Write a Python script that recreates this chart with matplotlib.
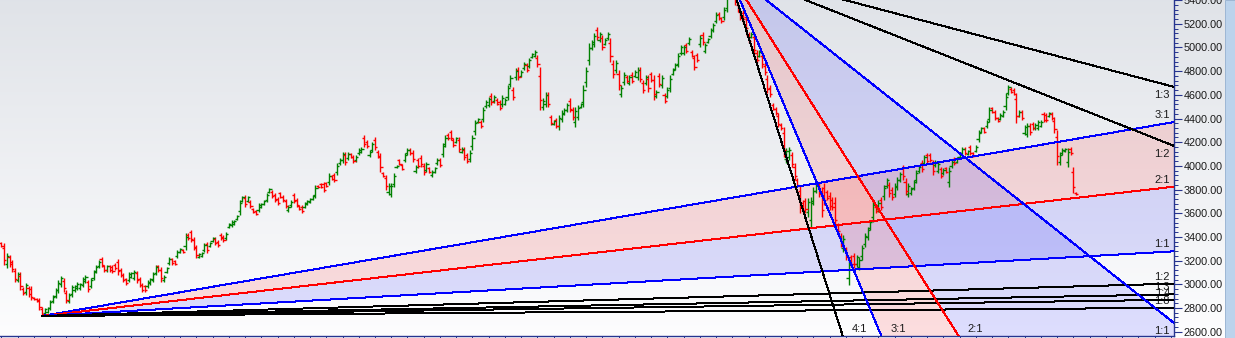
import numpy as np
import matplotlib
matplotlib.use("Agg")
import matplotlib.pyplot as plt
from matplotlib.ticker import MultipleLocator, FuncFormatter
from matplotlib.patches import Rectangle

plt.rcParams["font.family"] = ["Liberation Sans", "DejaVu Sans"]

# palette
UP = "#008000"
DOWN = "#ff0000"
BLUE = "#0000ff"
RED = "#ff0000"
BLACK = "#000000"
AXIS = "#26348f"
TXT = "#1a1a1a"

# ---- daily OHLC bars (oldest first) ----
opens = [
    3348, 3311, 3169, 3227, 3185, 3113, 3040, 3073, 2964, 2935, 2967, 2961, 2888, 2877, 2864, 2793, 2756, 2770,
    2804, 2859, 2905, 2954, 3000, 3029, 2930, 2863, 2918, 2950, 2969, 2967, 2998, 3028, 3016, 2990, 3057, 3112,
    3154, 3213, 3151, 3118, 3151, 3149, 3167, 3186, 3122, 3080, 3041, 3040, 3066, 3057, 3092, 3044, 2996, 2982,
    2986, 3009, 3040, 3099, 3151, 3121, 3034, 3108, 3180, 3210, 3197, 3239, 3275, 3290, 3325, 3420, 3438,
    3377, 3309, 3232, 3241, 3291, 3338, 3325, 3367, 3385, 3361, 3420, 3403, 3390, 3486, 3498, 3511, 3553, 3616,
    3707, 3733, 3707, 3697, 3635, 3618, 3628, 3654, 3679, 3713, 3781, 3781, 3755, 3722, 3768, 3741, 3704, 3624,
    3667, 3753, 3712, 3660, 3655, 3656, 3679, 3696, 3722, 3755, 3832, 3846, 3845, 3854, 3862, 3913, 3923, 3947,
    4021, 4046, 4093, 4065, 4099, 4077, 4046, 4105, 4120, 4239, 4203, 4088, 4136,
    4220, 4119, 4075, 3939, 3896, 3778, 3766, 3850, 3987, 4046, 4004, 4050, 4105, 4137, 4112, 3955, 4048, 4070,
    4003, 3968, 3979, 3920, 3951, 4021, 4050, 4103, 4183, 4264, 4284, 4218, 4204, 4217, 4120, 4135, 4090, 4056,
    4164, 4291, 4371, 4372, 4400, 4503, 4516, 4593, 4546, 4559, 4537, 4520, 4527, 4586, 4689, 4641, 4748, 4810,
    4763, 4824, 4851, 4845, 4919, 4931, 4913, 4759, 4495, 4527, 4596, 4410, 4354,
    4385, 4333, 4393, 4442, 4472, 4547, 4473, 4368, 4417, 4497, 4541, 4705, 4895, 4996, 5030, 5147, 5064, 5077,
    5033, 5077, 5036, 4861, 4809, 4773, 4604, 4708, 4751, 4701, 4771, 4763, 4750, 4807, 4700, 4701, 4736, 4773,
    4723, 4588, 4757, 4683, 4596, 4594, 4657, 4780, 4822, 4862, 4954, 4954, 5017, 5035, 4963, 4908, 4935, 5026,
    5105, 4971, 5045, 5098, 5146, 5226, 5282, 5245, 5255,
    5330, 5610, 5540, 5450,
    5363, 5296, 5293, 5255, 5108, 5090, 5088, 4953, 4931, 4932, 4846, 4735, 4660, 4517, 4481, 4420, 4348, 4275,
    4055, 4075, 4090, 3994, 3881, 3790, 3689, 3702, 3607, 3546, 3706, 3791, 3830, 3769, 3817, 3778, 3748, 3714,
    3685, 3500, 3408, 3308, 3292, 3053, 3227, 3239, 3171, 3148, 3237, 3344, 3401, 3479, 3572, 3655, 3635, 3714,
    3743, 3833, 3837,
    3798, 3766, 3822, 3883, 3981, 3867, 3766, 3770, 3816, 3881, 3955, 4028, 4027, 4090, 4092, 4023, 4004, 3961,
    3970, 3936, 3979, 3862, 3997, 4060, 4036, 4078, 4107, 4144, 4101, 4157, 4107, 4130, 4225, 4289, 4316, 4335,
    4400, 4485, 4452, 4402, 4400, 4425, 4505, 4617, 4653, 4643, 4562, 4425, 4452, 4280, 4272, 4340, 4355, 4316,
    4322, 4341, 4436, 4429, 4421, 4439, 4383, 4242, 4033, 4105, 4124, 4029, 4144, 3945, 3773,
]
highs = [
    3356, 3348, 3264, 3247, 3205, 3137, 3103, 3103, 2977, 3011, 2985, 2985, 2893, 2884, 2884, 2808, 2800, 2808,
    2867, 2910, 2969, 3036, 3070, 3053, 2952, 2926, 2994, 2994, 3019, 3011, 3061, 3078, 3036, 3053, 3120, 3163,
    3205, 3230, 3163, 3163, 3163, 3163, 3179, 3213, 3137, 3095, 3053, 3103, 3103, 3120, 3112, 3061, 3011, 2994,
    3036, 3053, 3103, 3163, 3163, 3146, 3078, 3146, 3230, 3222, 3205, 3289, 3306, 3297, 3432, 3432, 3458,
    3399, 3331, 3264, 3272, 3348, 3356, 3356, 3399, 3399, 3373, 3432, 3415, 3441, 3517, 3542, 3542, 3584, 3711,
    3744, 3753, 3744, 3711, 3643, 3626, 3685, 3685, 3711, 3770, 3812, 3795, 3770, 3736, 3778, 3753, 3719, 3668,
    3711, 3770, 3727, 3668, 3668, 3694, 3711, 3727, 3753, 3837, 3837, 3854, 3862, 3862, 3938, 3921, 3938, 4023,
    4065, 4115, 4115, 4115, 4107, 4090, 4090, 4149, 4157, 4259, 4217, 4132, 4200,
    4242, 4132, 4107, 3947, 3921, 3854, 3854, 3938, 4006, 4056, 4014, 4107, 4149, 4149, 4132, 4006, 4065, 4090,
    4023, 4031, 3989, 3964, 3989, 4065, 4065, 4191, 4259, 4276, 4301, 4233, 4242, 4242, 4157, 4157, 4107, 4132,
    4259, 4385, 4402, 4385, 4495, 4554, 4579, 4613, 4596, 4571, 4554, 4596, 4571, 4680, 4765, 4663, 4824, 4832,
    4807, 4874, 4866, 4908, 4950, 4975, 4933, 4832, 4571, 4621, 4621, 4427, 4385,
    4402, 4427, 4469, 4486, 4529, 4571, 4495, 4495, 4512, 4529, 4680, 4832, 5034, 5060, 5119, 5169, 5127, 5102,
    5077, 5127, 5077, 4891, 4891, 4807, 4680, 4790, 4765, 4765, 4790, 4807, 4832, 4832, 4722, 4765, 4765, 4790,
    4765, 4638, 4781, 4765, 4613, 4663, 4765, 4824, 4866, 4950, 5018, 5018, 5034, 5085, 4975, 4933, 4950, 5102,
    5127, 5034, 5077, 5161, 5203, 5296, 5296, 5254, 5338,
    5664, 5640, 5560, 5470,
    5380, 5313, 5313, 5287, 5127, 5127, 5127, 4975, 4975, 4959, 4866, 4765, 4680, 4529, 4495, 4444, 4360, 4326,
    4149, 4157, 4115, 4023, 3896, 3837, 3711, 3727, 3727, 3736, 3820, 3854, 3854, 3820, 3854, 3795, 3778, 3736,
    3736, 3517, 3432, 3415, 3314, 3230, 3247, 3264, 3247, 3230, 3331, 3432, 3483, 3542, 3711, 3668, 3711, 3736,
    3837, 3896, 3862,
    3820, 3854, 3905, 3947, 4006, 3896, 3854, 3820, 3879, 3964, 4006, 4048, 4090, 4107, 4107, 4048, 4048, 4031,
    3989, 3980, 3989, 3989, 4048, 4073, 4073, 4115, 4157, 4157, 4132, 4174, 4115, 4174, 4301, 4326, 4326, 4385,
    4495, 4495, 4469, 4410, 4444, 4469, 4613, 4680, 4663, 4655, 4613, 4469, 4469, 4343, 4360, 4360, 4368, 4360,
    4385, 4385, 4453, 4444, 4453, 4453, 4410, 4301, 4115, 4149, 4149, 4149, 4157, 3989, 3778,
]
lows = [
    3314, 3163, 3137, 3146, 3103, 3019, 3019, 2952, 2910, 2910, 2893, 2867, 2867, 2851, 2783, 2733, 2741, 2758,
    2783, 2842, 2884, 2926, 2977, 2935, 2842, 2842, 2893, 2935, 2952, 2952, 2977, 3011, 2935, 2969, 3036, 3095,
    3137, 3146, 3103, 3103, 3103, 3095, 3120, 3078, 3061, 3019, 2994, 3019, 3053, 3036, 3011, 2977, 2935, 2935,
    2969, 2994, 3019, 3078, 3103, 3019, 3019, 3095, 3163, 3163, 3163, 3222, 3264, 3264, 3289, 3373, 3356,
    3289, 3222, 3222, 3230, 3272, 3264, 3314, 3356, 3331, 3314, 3373, 3356, 3373, 3475, 3483, 3500, 3542, 3584,
    3694, 3652, 3694, 3643, 3601, 3584, 3609, 3643, 3668, 3694, 3770, 3727, 3694, 3668, 3727, 3694, 3643, 3609,
    3652, 3685, 3652, 3626, 3601, 3643, 3668, 3685, 3711, 3727, 3812, 3812, 3778, 3820, 3837, 3879, 3862, 3921,
    4006, 4023, 4006, 4048, 4065, 4023, 4031, 4090, 4107, 4157, 4149, 4073, 4115,
    4132, 4065, 3947, 3905, 3795, 3753, 3736, 3820, 3980, 4006, 3964, 4031, 4090, 4090, 4031, 3938, 3980, 3989,
    3921, 3947, 3938, 3905, 3938, 4006, 3989, 4073, 4157, 4217, 4217, 4157, 4191, 4115, 4107, 4048, 4023, 4031,
    4132, 4259, 4360, 4318, 4368, 4486, 4495, 4512, 4529, 4512, 4469, 4495, 4512, 4554, 4663, 4554, 4722, 4722,
    4748, 4807, 4790, 4824, 4908, 4916, 4832, 4469, 4469, 4495, 4495, 4343, 4343,
    4318, 4301, 4368, 4427, 4453, 4453, 4385, 4326, 4385, 4486, 4495, 4663, 4849, 4975, 5001, 5060, 5043, 4975,
    5018, 5060, 4874, 4739, 4781, 4638, 4579, 4680, 4697, 4680, 4697, 4748, 4722, 4706, 4613, 4680, 4621, 4706,
    4554, 4571, 4663, 4655, 4529, 4571, 4621, 4765, 4807, 4832, 4933, 4933, 4950, 5018, 4916, 4807, 4874, 5001,
    5018, 4950, 5034, 5077, 5127, 5203, 5228, 5211, 5228,
    5300, 5480, 5420, 5360,
    5296, 5228, 5211, 5127, 5034, 5077, 4933, 4866, 4916, 4824, 4765, 4613, 4579, 4469, 4427, 4326, 4301, 4073,
    4023, 4048, 3989, 3879, 3820, 3601, 3601, 3601, 3567, 3483, 3668, 3770, 3736, 3567, 3668, 3711, 3626, 3626,
    3483, 3432, 3314, 3272, 3205, 2994, 3146, 3137, 3146, 3120, 3205, 3314, 3373, 3458, 3525, 3601, 3609, 3626,
    3711, 3812, 3736,
    3711, 3736, 3795, 3862, 3879, 3753, 3736, 3753, 3795, 3854, 3938, 3947, 4006, 4023, 4031, 3921, 3989, 3938,
    3896, 3921, 3938, 3820, 3980, 4006, 4023, 4065, 4090, 4090, 4090, 4090, 4073, 4115, 4200, 4276, 4276, 4318,
    4368, 4444, 4385, 4368, 4385, 4410, 4469, 4596, 4613, 4596, 4360, 4410, 4385, 4259, 4242, 4259, 4301, 4301,
    4301, 4326, 4368, 4368, 4410, 4385, 4276, 4006, 4006, 4090, 4115, 3989, 4090, 3770, 3753,
]
closes = [
    3325, 3209, 3239, 3171, 3129, 3049, 3086, 2990, 2927, 2991, 2916, 2897, 2874, 2859, 2808, 2752, 2788, 2798,
    2850, 2896, 2952, 3014, 3051, 2965, 2870, 2909, 2974, 2982, 3006, 2999, 3044, 3065, 2960, 3036, 3103, 3149,
    3191, 3167, 3118, 3151, 3118, 3112, 3135, 3112, 3080, 3038, 3009, 3086, 3093, 3103, 3036, 2998, 2954, 2950,
    3023, 3041, 3086, 3146, 3118, 3051, 3066, 3136, 3217, 3178, 3174, 3276, 3298, 3272, 3403, 3388, 3382,
    3317, 3249, 3256, 3264, 3333, 3287, 3348, 3390, 3348, 3329, 3388, 3371, 3427, 3509, 3530, 3534, 3576, 3686,
    3734, 3677, 3734, 3660, 3612, 3595, 3670, 3677, 3702, 3755, 3804, 3744, 3713, 3685, 3740, 3709, 3662, 3656,
    3699, 3706, 3671, 3637, 3618, 3684, 3702, 3719, 3745, 3815, 3818, 3823, 3799, 3831, 3918, 3890, 3881, 4003,
    4053, 4097, 4033, 4102, 4076, 4040, 4078, 4137, 4147, 4183, 4166, 4120, 4183,
    4160, 4082, 3987, 3916, 3827, 3834, 3830, 3914, 4001, 4018, 3977, 4092, 4137, 4105, 4056, 3992, 4001, 4014,
    3947, 4014, 3951, 3952, 3979, 4053, 4008, 4167, 4239, 4232, 4238, 4176, 4232, 4147, 4147, 4075, 4044, 4112,
    4234, 4360, 4394, 4335, 4470, 4540, 4562, 4537, 4583, 4527, 4490, 4576, 4559, 4655, 4745, 4581, 4804, 4750,
    4795, 4861, 4809, 4891, 4942, 4963, 4857, 4560, 4551, 4596, 4527, 4364, 4377,
    4339, 4402, 4449, 4474, 4514, 4483, 4413, 4461, 4487, 4520, 4643, 4798, 4997, 5043, 5095, 5087, 5110, 5007,
    5065, 5114, 4925, 4777, 4869, 4680, 4660, 4768, 4714, 4748, 4720, 4795, 4810, 4738, 4640, 4748, 4657, 4727,
    4607, 4625, 4693, 4743, 4550, 4645, 4736, 4812, 4854, 4926, 5001, 5001, 4971, 5072, 4931, 4839, 4893, 5082,
    5045, 5017, 5068, 5144, 5188, 5277, 5245, 5222, 5316,
    5620, 5500, 5440, 5380,
    5317, 5249, 5237, 5167, 5057, 5117, 4982, 4893, 4963, 4858, 4790, 4651, 4604, 4484, 4444, 4356, 4316, 4136,
    4124, 4135, 4020, 3915, 3839, 3660, 3628, 3632, 3695, 3685, 3790, 3837, 3766, 3630, 3715, 3732, 3664, 3654,
    3546, 3453, 3344, 3386, 3232, 3183, 3171, 3169, 3227, 3208, 3306, 3408, 3461, 3525, 3674, 3618, 3691, 3654,
    3812, 3879, 3768,
    3738, 3830, 3883, 3930, 3911, 3789, 3830, 3807, 3862, 3942, 3992, 3972, 4073, 4044, 4050, 3953, 4036, 4012,
    3919, 3968, 3951, 3955, 4034, 4023, 4063, 4105, 4144, 4107, 4124, 4111, 4084, 4162, 4281, 4316, 4289, 4372,
    4470, 4457, 4406, 4379, 4432, 4457, 4584, 4663, 4626, 4611, 4423, 4457, 4406, 4326, 4336, 4284, 4318, 4348,
    4368, 4373, 4389, 4387, 4444, 4402, 4310, 4080, 4093, 4137, 4142, 4117, 4107, 3825, 3760,
]

# Gann fans: (ratio, label, colour); 1x1 = price points per bar
UP_FAN_UNIT = 1.305
DOWN_FAN_UNIT = 18.1
up_fan = [(3, "3:1", BLUE), (2, "2:1", RED), (1, "1:1", BLUE),
          (1 / 2, "1:2", BLACK), (1 / 3, "1:3", BLACK), (1 / 4, "1:4", BLACK), (1 / 8, "1:8", BLACK)]
down_fan = [(4, "4:1", BLACK), (3, "3:1", BLUE), (2, "2:1", RED), (1, "1:1", BLUE),
            (1 / 2, "1:2", BLACK), (1 / 3, "1:3", BLACK)]

YMIN, YMAX = 2563.7, 5401
XMIN, XMAX = -0.55, 433.2
LW = 0.72  # one pixel at 100 dpi


def main():
    o = np.array(opens, float)
    h = np.array(highs, float)
    lo = np.array(lows, float)
    c = np.array(closes, float)
    n = min(len(o), len(h), len(lo), len(c))
    o, h, lo, c = o[:n], h[:n], lo[:n], c[:n]
    x = np.arange(n)

    fig = plt.figure(figsize=(12.35, 3.38), dpi=100)

    # background gradient across the whole window
    bg = fig.add_axes([0, 0, 1, 1], zorder=-5)
    grad = np.linspace(0, 1, 256)[:, None]
    top = np.array([0.878, 0.890, 0.910])
    bot = np.array([0.992, 0.992, 0.996])
    img = top[None, None, :] * (1 - grad[:, :, None]) + bot[None, None, :] * grad[:, :, None]
    bg.imshow(img, aspect="auto", extent=[0, 1, 0, 1], origin="upper")
    bg.set_axis_off()
    fig.patches.append(Rectangle((1225 / 1235, 0), 10 / 1235, 1, transform=fig.transFigure,
                                 facecolor="#bcd3ec", edgecolor="#9db6d4", lw=0.7, zorder=-1))

    ax = fig.add_axes([0, 2 / 338, 1174 / 1235, 336 / 338])
    ax.set_facecolor("none")
    ax.set_xlim(XMIN, XMAX)
    ax.set_ylim(YMIN, YMAX)

    # fans
    def draw_fan(i0, p0, unit, fan, sign, fill_pairs):
        xs = np.linspace(i0, XMAX + 5, 400)
        lines = {}
        for r, lab, col in fan:
            ys = p0 + sign * r * unit * (xs - i0)
            lines[lab] = ys
            ax.plot(xs, ys, color=col, lw=LW, antialiased=False, zorder=4)
            y_end = p0 + sign * r * unit * (XMAX - i0)
            if YMIN < y_end < YMAX:
                ax.annotate(lab, (XMAX, y_end), xytext=(-4, 2 if sign > 0 else -3),
                            textcoords="offset pixels", ha="right",
                            va="bottom" if sign > 0 else "top", fontsize=8, color=TXT)
            else:
                xb = i0 + (p0 - YMIN) / (r * unit)
                ax.annotate(lab, (xb, YMIN), xytext=(17, 2), textcoords="offset pixels",
                            ha="center", va="bottom", fontsize=8, color=TXT)
        for a, b, col in fill_pairs:
            ax.fill_between(xs, lines[a], lines[b], color=col, alpha=0.12, lw=0, zorder=1)

    i_lo = int(np.argmin(lo))
    i_hi = int(np.argmax(h))
    draw_fan(i_lo, lo[i_lo], UP_FAN_UNIT, up_fan, 1,
             [("3:1", "2:1", RED), ("2:1", "1:1", BLUE)])
    draw_fan(i_hi, h[i_hi], DOWN_FAN_UNIT, down_fan, -1,
             [("3:1", "2:1", RED), ("2:1", "1:1", BLUE)])

    # OHLC bars
    cols = np.where(c >= o, UP, DOWN)
    ax.vlines(x, lo, h, colors=cols, lw=1.0, zorder=3)
    ax.hlines(o, x - 0.8, x, colors=cols, lw=1.0, zorder=3)
    ax.hlines(c, x, x + 0.8, colors=cols, lw=1.0, zorder=3)

    # axes styling: price scale on the right
    for s in ("top", "left"):
        ax.spines[s].set_visible(False)
    for s in ("right", "bottom"):
        ax.spines[s].set_color(AXIS)
        ax.spines[s].set_linewidth(1.0)
    ax.yaxis.tick_right()
    ax.yaxis.set_major_locator(MultipleLocator(200))
    ax.yaxis.set_minor_locator(MultipleLocator(40))
    ax.yaxis.set_major_formatter(FuncFormatter(lambda v, _: f"{v:.2f}"))
    ax.tick_params(axis="y", which="major", length=6, width=0.8, color=AXIS,
                   labelsize=7.8, labelcolor=TXT, pad=1)
    ax.tick_params(axis="y", which="minor", length=3, width=0.7, color=AXIS)
    ax.xaxis.set_major_locator(MultipleLocator(6))
    ax.tick_params(axis="x", which="major", length=2, width=0.7, color=AXIS,
                   labelbottom=False)

    fig.savefig("out.png", dpi=100)
    plt.close(fig)


if __name__ == "__main__":
    main()
